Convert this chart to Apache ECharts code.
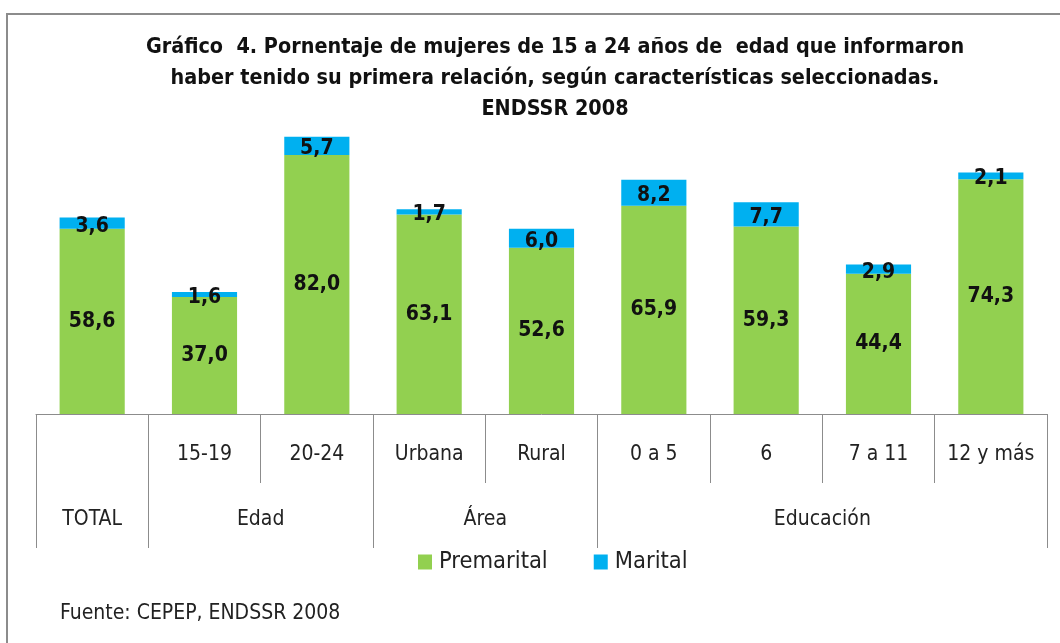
<!DOCTYPE html>
<html><head><meta charset="utf-8">
<script src="https://cdn.jsdelivr.net/npm/echarts@6/dist/echarts.min.js"></script>
<style>
html,body{margin:0;padding:0;background:#fff;}
#wrap{position:relative;width:1060px;height:643px;overflow:hidden;}
#frame{position:absolute;left:6px;top:13px;width:1100px;height:700px;border:2px solid #8c8c8c;box-sizing:border-box;}
#chart{position:absolute;left:0;top:0;width:1060px;height:643px;}
</style></head>
<body><div id="wrap"><div id="frame"></div><div id="chart"></div></div>
<script>
const categories = ['', '15-19', '20-24', 'Urbana', 'Rural', '0 a 5', '6', '7 a 11', '12 y más'];
const premarital = [58.6, 37.0, 82.0, 63.1, 52.6, 65.9, 59.3, 44.4, 74.3];
const marital = [3.6, 1.6, 5.7, 1.7, 6.0, 8.2, 7.7, 2.9, 2.1];
const groupNames = ['TOTAL', 'Edad', 'Área', 'Educación'];
const groupSizes = [1, 2, 2, 4];
const titleLines = ['Gráfico  4. Pornentaje de mujeres de 15 a 24 años de  edad que informaron',
  'haber tenido su primera relación, según características seleccionadas.', 'ENDSSR 2008'];
const sourceText = 'Fuente: CEPEP, ENDSSR 2008';

const FONT = '"Liberation Sans Narrow", "DejaVu Sans Condensed", "Open Sans", sans-serif';
const groupBounds = [0];
const groupCenters = [];
groupSizes.forEach((s) => { const a = groupBounds[groupBounds.length - 1]; groupCenters.push(a + s / 2); groupBounds.push(a + s); });
const fmt = v => v.toFixed(1).replace('.', ',');

const chart = echarts.init(document.getElementById('chart'));
chart.setOption({
  animation: false,
  textStyle: { fontFamily: FONT },
  title: [{
    text: titleLines.join('\n'), left: 550, top: 27, textAlign: 'center',
    textStyle: { fontFamily: FONT, fontSize: 21.4, fontWeight: 'bold', color: '#111', lineHeight: 31 }
  }, {
    text: sourceText, left: 55, top: 598,
    textStyle: { fontFamily: FONT, fontSize: 21, fontWeight: 'normal', color: '#222' }
  }],
  legend: {
    data: ['Premarital', 'Marital'], left: 413, top: 545, icon: 'rect',
    itemWidth: 14, itemHeight: 15, itemGap: 46,
    textStyle: { fontFamily: FONT, fontSize: 23.5, color: '#222', padding: [0, 0, 0, 2] }
  },
  grid: { left: 36, right: 13, top: 98, bottom: 229 },
  xAxis: [{
    type: 'category', data: categories, position: 'bottom',
    axisLine: { show: true, lineStyle: { color: '#8c8c8c', width: 1 } },
    axisTick: { show: true, length: 69, lineStyle: { color: '#8c8c8c' } },
    axisLabel: { margin: 30.5, fontFamily: FONT, fontSize: 21, color: '#222', interval: 0 }
  }, {
    type: 'value', min: 0, max: 9, position: 'bottom',
    axisLine: { show: false }, splitLine: { show: false },
    axisTick: { show: true, length: 134, customValues: groupBounds, lineStyle: { color: '#8c8c8c' } },
    axisLabel: { margin: 95.5, fontFamily: FONT, fontSize: 21, color: '#222', customValues: groupCenters,
      formatter: v => groupNames[groupCenters.indexOf(v)] }
  }],
  yAxis: { type: 'value', min: 0, max: 100, show: false, splitLine: { show: false } },
  series: [{
    name: 'Premarital', type: 'bar', stack: 's', data: premarital, barWidth: '58%',
    itemStyle: { color: '#92D050' },
    label: { show: true, position: 'inside', formatter: p => fmt(p.value), fontFamily: FONT, fontSize: 21, fontWeight: 'bold', color: '#111' }
  }, {
    name: 'Marital', type: 'bar', stack: 's', data: marital, barWidth: '58%',
    itemStyle: { color: '#00B0F0' },
    label: { show: true, position: 'inside', offset: [0, 3], formatter: p => fmt(p.value), fontFamily: FONT, fontSize: 21, fontWeight: 'bold', color: '#111' }
  }]
});
</script></body></html>
